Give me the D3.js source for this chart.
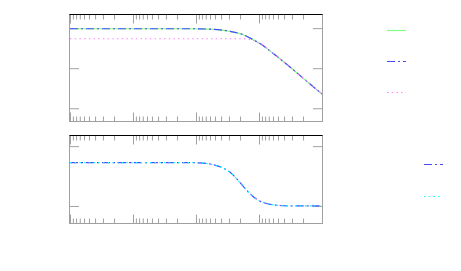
<!DOCTYPE html>
<html>
<head>
<meta charset="utf-8">
<script src="https://cdn.jsdelivr.net/npm/d3@7"></script>
<style>
	body { margin: 0; background: #fff; }
	svg { display: block; }
</style>
</head>
<body>
<div id="chart"></div>
<script>
const W = 461, H = 271;
const GRAY = "#a0a0a0";

// frequency values (log axis, 1 .. 1e4)
const magFreq = [1, 10, 50, 80, 167, 347, 563, 812, 1037, 1687, 3105, 5717, 10000];
const magExact = [-0.3, -0.3, -0.3, -0.3, -0.5, -1.6, -3.3, -5.8, -7.7, -12.7, -19.4, -26.5, -32.9];
const magFit = [-0.3, -0.3, -0.3, -0.3, -0.5, -1.6, -3.3, -5.8, -7.7, -12.7, -19.4, -26.5, -32.9];
const asymFreq = [1, 10, 100, 500, 720, 964, 1037, 1687, 3105, 5717, 10000];
const asymMag = [-5.3, -5.3, -5.3, -5.3, -5.6, -7.3, -7.7, -12.7, -19.4, -26.5, -32.9];

const phFreq = [1, 10, 80, 131, 188, 271, 369, 500, 676, 919, 1170, 1910, 3105, 10000];
const phExact = [-24.9, -24.9, -24.9, -25.5, -27.9, -33, -41.4, -54.9, -69, -80, -84.9, -88.9, -90, -90];
const phFit = [-24.9, -24.9, -24.9, -25.5, -27.9, -33, -41.4, -54.9, -69, -80, -84.9, -88.9, -90, -90];

const magTicks = [0, -20, -40];
const phTicks = [0, -90];
const majorX = [1, 10, 100, 1000, 10000];
// minor ticks are mirrored inside each decade
let minorX = [];
majorX.slice(1).forEach(function (m) {
	for (let k = 2; k <= 9; k++) minorX.push(m / k);
});

const svg = d3.select("#chart").append("svg")
	.attr("width", W).attr("height", H);
svg.append("rect").attr("width", W).attr("height", H).attr("fill", "#fff");

let x = d3.scaleLog().domain([1, 1e4]).range([70, 322]);

function panel(top, bottom, y, yTicks, series) {
	let g = svg.append("g");

	// ticks
	let axes = [
		[d3.axisTop(x).tickValues(majorX).tickSize(-9), top],
		[d3.axisTop(x).tickValues(minorX).tickSize(-5), top],
		[d3.axisBottom(x).tickValues(majorX).tickSize(-9), bottom],
		[d3.axisBottom(x).tickValues(minorX).tickSize(-5), bottom],
	];
	axes.forEach(function (a) {
		g.append("g")
			.attr("transform", "translate(0," + a[1] + ")")
			.call(a[0].tickFormat("").tickSizeOuter(0));
	});
	g.append("g").attr("transform", "translate(70,0)")
		.call(d3.axisLeft(y).tickValues(yTicks).tickSize(-9).tickFormat("").tickSizeOuter(0));
	g.append("g").attr("transform", "translate(322,0)")
		.call(d3.axisRight(y).tickValues(yTicks).tickSize(-9).tickFormat("").tickSizeOuter(0));
	g.selectAll(".domain").remove();
	g.selectAll(".tick line").attr("stroke", GRAY);

	// frame
	g.append("rect").attr("x", 69.5).attr("y", top).attr("width", 253)
		.attr("height", bottom - top).attr("fill", "none").attr("stroke", GRAY);
	g.append("line").attr("x1", 69.5).attr("x2", 322.5).attr("y1", top).attr("y2", top)
		.attr("stroke", "#000");

	series.forEach(function (s) {
		let line = d3.line().x(function (d) { return x(d[0]); })
			.y(function (d) { return y(d[1]); })
			.curve(d3.curveMonotoneX);
		g.append("path")
			.datum(d3.zip(s.f, s.v))
			.attr("d", line)
			.attr("fill", "none")
			.attr("stroke", s.color)
			.attr("stroke-width", 1.2)
			.attr("stroke-dasharray", s.dash);

		svg.append("line")
			.attr("x1", s.lx).attr("x2", s.lx + 19)
			.attr("y1", s.ly).attr("y2", s.ly)
			.attr("stroke", s.color)
			.attr("stroke-width", 1.2)
			.attr("stroke-dasharray", s.dash);
	});
}

let yMag = d3.scaleLinear().domain([-46.6, 6.8]).range([121.5, 14.5]);
panel(14.5, 121.5, yMag, magTicks, [
	{ f: magFreq, v: magExact, color: "#80ff80", dash: null, lx: 387, ly: 30.5 },
	{ f: magFreq, v: magFit, color: "#4a4aff", dash: "8,3,2,3", lx: 387, ly: 61.5 },
	{ f: asymFreq, v: asymMag, color: "#ff80ff", dash: "1.5,3.2", lx: 387, ly: 92.5 },
]);

let yPh = d3.scaleLinear().domain([-116.4, 16]).range([223.5, 135.5]);
panel(135.5, 223.5, yPh, phTicks, [
	{ f: phFreq, v: phExact, color: "#4a4aff", dash: "8,3,2,3", lx: 424, ly: 164.5 },
	{ f: phFreq, v: phFit, color: "#00ffff", dash: "1.5,3.2", lx: 424, ly: 196.5 },
]);
</script>
</body>
</html>
